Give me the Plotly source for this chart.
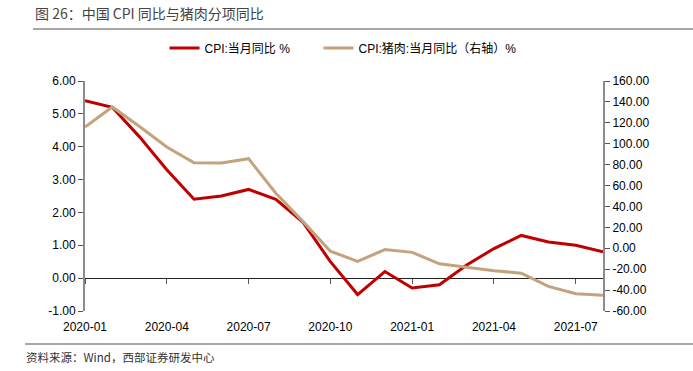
import plotly.graph_objects as go

months = ["2020-01", "2020-02", "2020-03", "2020-04", "2020-05", "2020-06", "2020-07",
          "2020-08", "2020-09", "2020-10", "2020-11", "2020-12", "2021-01", "2021-02",
          "2021-03", "2021-04", "2021-05", "2021-06", "2021-07", "2021-08"]
cpi_yoy = [5.4, 5.2, 4.3, 3.3, 2.4, 2.5, 2.7, 2.4, 1.7, 0.5, -0.5, 0.2, -0.3, -0.2,
           0.4, 0.9, 1.3, 1.1, 1.0, 0.8]
pork_yoy = [116.0, 135.2, 116.4, 96.9, 81.7, 81.6, 85.7, 52.6, 25.5, -2.8, -12.5, -1.3,
            -3.9, -14.9, -18.2, -21.4, -23.8, -36.5, -43.5, -44.9]
tick_months = ["2020-01", "2020-04", "2020-07", "2020-10", "2021-01", "2021-04", "2021-07"]
left_ticks = [-1, 0, 1, 2, 3, 4, 5, 6]
right_ticks = [-60, -40, -20, 0, 20, 40, 60, 80, 100, 120, 140, 160]

name_cpi = "CPI:当月同比 %"
name_pork = "CPI:猪肉:当月同比（右轴）%"
title_text = "图 26：中国 CPI 同比与猪肉分项同比"
source_text = "资料来源：Wind，西部证券研发中心"

RED = "#C00000"
TAN = "#C4A27C"
CJK = "Noto Sans CJK SC"
LAT = "Liberation Sans, Arial, sans-serif"

fig = go.Figure()
fig.add_trace(go.Scatter(x=months, y=pork_yoy, name=name_pork, mode="lines",
                         line=dict(color=TAN, width=3), yaxis="y2", legend="legend2"))
fig.add_trace(go.Scatter(x=months, y=cpi_yoy, name=name_cpi, mode="lines",
                         line=dict(color=RED, width=3), yaxis="y", legend="legend"))
# hidden helper trace so that the zero-position tick axis has the categories
fig.add_trace(go.Scatter(x=months, y=cpi_yoy, mode="lines", line=dict(width=0),
                         opacity=0, showlegend=False, hoverinfo="skip",
                         xaxis="x2", yaxis="y"))

legend_common = dict(orientation="h", xref="container", yref="container",
                     y=1 - 48 / 371, xanchor="left", yanchor="middle",
                     font=dict(family=LAT + ", " + CJK, size=12, color="#000"),
                     itemwidth=30, bgcolor="rgba(0,0,0,0)")

fig.update_layout(
    width=693, height=371,
    margin=dict(l=85, r=90, t=81, b=60),
    paper_bgcolor="white", plot_bgcolor="white",
    font=dict(family=LAT, size=12, color="#000000"),
    showlegend=True,
    legend=dict(x=164.5 / 693, **legend_common),
    legend2=dict(x=318.5 / 693, **legend_common),
    xaxis=dict(type="category", categoryorder="array", categoryarray=months,
               range=[0, len(months) - 1], tickmode="array", tickvals=tick_months,
               ticktext=tick_months, ticks="", showline=False, showgrid=False,
               zeroline=False, tickfont=dict(size=12, family=LAT), ticklabelstandoff=7),
    xaxis2=dict(type="category", categoryorder="array", categoryarray=months,
                overlaying="x", anchor="free", position=1 / 7, side="bottom",
                range=[0, len(months) - 1], tickmode="array", tickvals=tick_months,
                showticklabels=False, ticks="outside", ticklen=5, tickcolor="#555",
                showline=False, showgrid=False, zeroline=False),
    yaxis=dict(range=[-1, 6], tickmode="array", tickvals=left_ticks,
               ticktext=[f"{v:.2f}" for v in left_ticks], showgrid=False,
               zeroline=True, zerolinecolor="#222", zerolinewidth=1,
               showline=True, linecolor="#8c8c8c", linewidth=2, ticks="outside",
               ticklen=5, tickcolor="#555", tickfont=dict(size=12, family=LAT)),
    yaxis2=dict(range=[-60, 160], overlaying="y", side="right", tickmode="array",
                tickvals=right_ticks, ticktext=[f"{v:.2f}" for v in right_ticks],
                showgrid=False, zeroline=False, showline=True, linecolor="#8c8c8c",
                linewidth=2, ticks="outside", ticklen=5, tickcolor="#555",
                tickfont=dict(size=12, family=LAT)),
)

fig.add_annotation(text=title_text, xref="paper", yref="paper", x=-0.1, y=1.296,
                   xanchor="left", yanchor="middle", showarrow=False,
                   font=dict(family=CJK, size=14, color="#444"))
fig.add_annotation(text=source_text, xref="paper", yref="paper", x=-0.118, y=-0.2,
                   xanchor="left", yanchor="middle", showarrow=False,
                   font=dict(family=CJK, size=11.5, color="#333"))
fig.add_shape(type="line", xref="paper", yref="paper", x0=-0.1004, x1=1.1737,
              y0=1.226, y1=1.226, line=dict(color="#888", width=1.5))
fig.add_shape(type="line", xref="paper", yref="paper", x0=-0.1158, x1=1.1737,
              y0=-0.1435, y1=-0.1435, line=dict(color="#888", width=1.5))

fig.write_html("out.html", config={"displayModeBar": False},
               post_script="document.body.style.margin='0';document.body.style.padding='0';")
